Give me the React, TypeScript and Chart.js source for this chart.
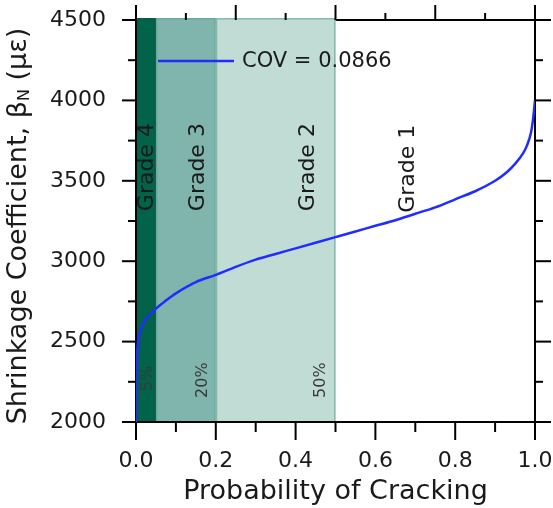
import React, { useEffect, useRef } from "react";
import { Chart, registerables } from "chart.js";

Chart.register(...registerables);

// ---- data ----
const probability = [0, 0.001, 0.003, 0.005, 0.01, 0.02, 0.03, 0.05, 0.075, 0.1, 0.15, 0.2, 0.25, 0.3, 0.35, 0.4, 0.45, 0.5, 0.55, 0.6, 0.65, 0.7, 0.75, 0.8, 0.85, 0.9, 0.93, 0.95, 0.97, 0.98, 0.99, 0.995, 1.0];
const shrinkage = [2000, 2250, 2430, 2500, 2560, 2620, 2655, 2705, 2755, 2800, 2870, 2915, 2965, 3010, 3045, 3080, 3115, 3150, 3185, 3220, 3255, 3295, 3335, 3385, 3435, 3500, 3555, 3605, 3670, 3720, 3800, 3880, 4000];

const bandFrom = [0, 0.05, 0.2];
const bandTo = [0.05, 0.2, 0.5];
const bandColors = ["#00634a", "#80b5ad", "#c1dcd5"];
const bandEdges = ["#0b5a44", "#6aa79c", "#86b9ae"];

const gradeNames = ["Grade 4", "Grade 3", "Grade 2", "Grade 1"];
const gradeX = [0.027, 0.153, 0.43, 0.68];
const gradeY = [3585, 3585, 3585, 3575];

const percentNames = ["5%", "20%", "50%"];
const percentX = [0.027, 0.165, 0.46];
const percentY = [2270, 2260, 2260];

const legendLabel = "COV = 0.0866";
const xTitle = "Probability of Cracking";
const yTitleMain = "Shrinkage Coefficient, β";
const yTitleSub = "N";
const yTitleTail = " (με)";

const X_MIN = 0, X_MAX = 1, Y_MIN = 2000, Y_MAX = 4500;
const FONT = "'DejaVu Sans', sans-serif";

const decoPlugin = {
  id: "deco",
  beforeDatasetsDraw(chart: any) {
    const { ctx, chartArea: a, scales } = chart;
    const x = scales.x, y = scales.y;
    ctx.save();
    ctx.lineCap = "butt";
    ctx.strokeStyle = "#000";
    ctx.lineWidth = 2;
    const seg = (x0: number, y0: number, x1: number, y1: number) => {
      ctx.beginPath();
      ctx.moveTo(x0, y0);
      ctx.lineTo(x1, y1);
      ctx.stroke();
    };
    // top border (under bands)
    seg(a.left - 1, a.top, a.right + 1, a.top);
    // bands
    const yt = y.getPixelForValue(Y_MAX);
    const yb = y.getPixelForValue(Y_MIN);
    for (let i = 0; i < bandFrom.length; i++) {
      const x0 = x.getPixelForValue(bandFrom[i]);
      const x1 = x.getPixelForValue(bandTo[i]);
      ctx.fillStyle = bandColors[i];
      ctx.fillRect(x0, yt - 2, x1 - x0, yb - yt + 2);
      ctx.strokeStyle = bandEdges[i];
      ctx.lineWidth = 1.5;
      ctx.strokeRect(x0 + 0.75, yt - 1.25, x1 - x0 - 1.5, yb - yt + 1.25);
    }
    // remaining borders
    ctx.strokeStyle = "#000";
    ctx.lineWidth = 2;
    seg(a.left, a.top, a.left, a.bottom + 1);
    seg(a.left - 1, a.bottom, a.right + 1, a.bottom);
    seg(a.right, a.top - 1, a.right, a.bottom + 1);
    // ticks
    for (let v = Y_MIN; v <= Y_MAX; v += 250) {
      const py = y.getPixelForValue(v);
      const major = v % 500 === 0;
      seg(a.left - (major ? 14 : 8), py, a.left, py);
      seg(a.right, py, a.right + (major ? 16 : 8), py);
    }
    for (let i = 0; i <= 10; i++) {
      const px = x.getPixelForValue(i / 10);
      const major = i % 2 === 0;
      seg(px, a.bottom, px, a.bottom + (major ? 18 : 10));
    }
    for (let i = 0; i <= 8; i++) {
      const px = x.getPixelForValue(i / 8);
      const major = i % 2 === 0;
      seg(px, a.top - (major ? 15 : 7), px, a.top);
    }
    ctx.restore();
  },
  afterDatasetsDraw(chart: any) {
    const { ctx, chartArea: a, scales } = chart;
    const x = scales.x, y = scales.y;
    ctx.save();
    ctx.textAlign = "center";
    ctx.textBaseline = "middle";
    for (let i = 0; i < gradeNames.length; i++) {
      ctx.save();
      ctx.translate(x.getPixelForValue(gradeX[i]), y.getPixelForValue(gradeY[i]));
      ctx.rotate(-Math.PI / 2);
      ctx.fillStyle = "#1a1a1a";
      ctx.font = `22px ${FONT}`;
      ctx.fillText(gradeNames[i], 0, 1);
      ctx.restore();
    }
    for (let i = 0; i < percentNames.length; i++) {
      ctx.save();
      ctx.translate(x.getPixelForValue(percentX[i]), y.getPixelForValue(percentY[i]));
      ctx.rotate(-Math.PI / 2);
      ctx.fillStyle = "#3a3a3a";
      ctx.font = `16px ${FONT}`;
      ctx.fillText(percentNames[i], 0, 1);
      ctx.restore();
    }
    // legend
    const ly = a.top + 41;
    ctx.strokeStyle = "#1f2dff";
    ctx.lineWidth = 2.5;
    ctx.beginPath();
    ctx.moveTo(a.left + 22, ly);
    ctx.lineTo(a.left + 98, ly);
    ctx.stroke();
    ctx.fillStyle = "#1a1a1a";
    ctx.textAlign = "left";
    ctx.font = `21px ${FONT}`;
    ctx.fillText(legendLabel, a.left + 106, ly + 1);
    ctx.restore();
  },
  afterDraw(chart: any) {
    const { ctx, chartArea: a } = chart;
    ctx.save();
    const mainFont = `27px ${FONT}`;
    const subFont = `16px ${FONT}`;
    ctx.font = mainFont;
    const w1 = ctx.measureText(yTitleMain).width;
    const w3 = ctx.measureText(yTitleTail).width;
    ctx.font = subFont;
    const w2 = ctx.measureText(yTitleSub).width;
    const total = w1 + w2 + w3;
    const cy = (a.top + a.bottom) / 2 + 5;
    ctx.translate(19, cy);
    ctx.rotate(-Math.PI / 2);
    ctx.fillStyle = "#1a1a1a";
    ctx.textBaseline = "middle";
    ctx.textAlign = "left";
    let cx = -total / 2;
    ctx.font = mainFont;
    ctx.fillText(yTitleMain, cx, 0);
    cx += w1;
    ctx.font = subFont;
    ctx.fillText(yTitleSub, cx, 6);
    cx += w2;
    ctx.font = mainFont;
    ctx.fillText(yTitleTail, cx, 0);
    ctx.restore();
  },
};

export default function App() {
  const ref = useRef<HTMLCanvasElement>(null);
  useEffect(() => {
    document.body.style.margin = "0";
    const canvas = ref.current!;
    const chart = new Chart(canvas, {
      type: "line",
      data: {
        datasets: [
          {
            label: legendLabel,
            data: probability.map((p, i) => ({ x: p, y: shrinkage[i] })),
            borderColor: "#1f2dff",
            borderWidth: 2.5,
            pointRadius: 0,
            cubicInterpolationMode: "monotone",
            fill: false,
          },
        ],
      },
      options: {
        responsive: false,
        animation: false,
        devicePixelRatio: 1,
        layout: { padding: { top: 20, right: 18, left: 0, bottom: 0 } },
        plugins: { legend: { display: false }, tooltip: { enabled: false } },
        scales: {
          x: {
            type: "linear",
            min: X_MIN,
            max: X_MAX,
            grid: { display: false, drawTicks: false, tickLength: 0 },
            border: { display: false },
            ticks: {
              stepSize: 0.2,
              padding: 26,
              color: "#1a1a1a",
              font: { family: FONT, size: 22 },
              callback: (v: any) => Number(v).toFixed(1),
              maxRotation: 0,
            },
            title: {
              display: true,
              text: xTitle,
              color: "#1a1a1a",
              font: { family: FONT, size: 27 },
              padding: { top: 0, bottom: 0 },
            },
            afterFit: (s: any) => {
              s.height = 86;
              s.paddingLeft = 0;
              s.paddingRight = 0;
            },
          },
          y: {
            type: "linear",
            min: Y_MIN,
            max: Y_MAX,
            grid: { display: false, drawTicks: false, tickLength: 0 },
            border: { display: false },
            ticks: {
              stepSize: 500,
              padding: 30,
              color: "#1a1a1a",
              font: { family: FONT, size: 22 },
              callback: (v: any) => String(v),
            },
            afterFit: (s: any) => {
              s.width = 136;
              s.paddingTop = 0;
              s.paddingBottom = 0;
            },
          },
        },
      },
      plugins: [decoPlugin],
    });
    return () => chart.destroy();
  }, []);
  return (
    <div style={{ width: 553, height: 508 }}>
      <canvas ref={ref} width={553} height={508} />
    </div>
  );
}
